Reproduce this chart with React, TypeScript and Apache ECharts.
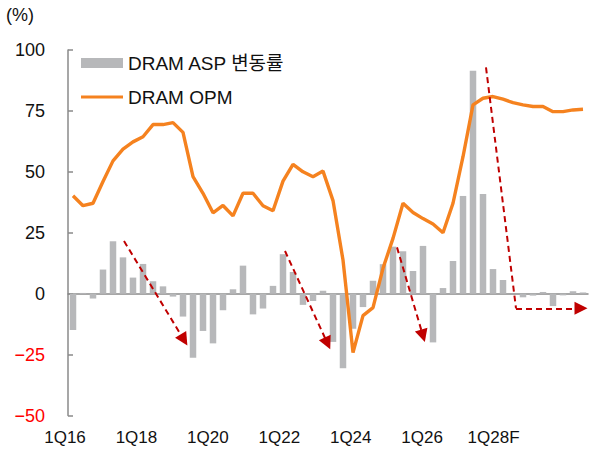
import React, { useEffect, useRef } from 'react';
import * as echarts from 'echarts';

const FONT = "'Liberation Sans', 'Noto Sans CJK KR', sans-serif";

const years = [16, 17, 18, 19, 20, 21, 22, 23, 24, 25, 26, 27, 28];
const quarters = years.flatMap((y) => [1, 2, 3, 4].map((q) => `${q}Q${y}`));

const tickLabels = ['1Q16', '1Q18', '1Q20', '1Q22', '1Q24', '1Q26', '1Q28F'];

const aspChange = [
  -14.9, 0.3, -2.0, 9.9, 21.5, 14.9, 6.6, 12.2, 5.1, 3.0, -1.2, -9.4,
  -26.3, -15.3, -20.4, -6.8, 1.8, 11.5, -8.5, -6.1, 3.2, 16.2, 8.9, -4.6,
  -3.0, 1.2, -19.8, -30.6, -14.4, -5.5, 5.3, 12.1, 19.3, 17.4, 9.3, 19.6,
  -20.0, 2.3, 13.4, 40.1, 91.5, 40.9, 10.1, 5.6, 0.0, -1.5, -0.8, 0.7,
  -5.1, -0.7, 1.0, 0.5,
];

const opm = [
  40.2, 36.1, 37.1, 46.0, 54.5, 59.3, 62.3, 64.4, 69.4, 69.4, 70.2, 66.2,
  48.0, 41.2, 33.2, 36.2, 31.9, 41.2, 41.2, 36.1, 34.0, 46.2, 53.1, 50.0,
  48.0, 50.3, 38.2, 13.8, -24.2, -9.0, -5.7, 10.4, 22.7, 37.1, 33.3, 30.8,
  28.6, 25.0, 37.1, 56.2, 77.5, 80.2, 80.9, 79.8, 78.4, 77.5, 76.8, 76.8,
  74.7, 74.7, 75.4, 75.7,
];

// annotation arrows, in [category index, value] units
const arrowsWithHead = [
  [[5.1, 21.6], [11.1, -19.0]],
  [[21.2, 17.5], [25.45, -20.4]],
  [[32.4, 19.0], [35.0, -17.3]],
  [[44.3, -6.0], [50.8, -6.0]],
];
const arrowStems = [[[41.3, 92.9], [44.3, -6.0]]];

export default function App() {
  const ref = useRef<HTMLDivElement>(null);
  useEffect(() => {
    if (!ref.current) return;
    const chart = echarts.init(ref.current, undefined, { renderer: 'svg' });
    const axisGray = '#8a8a8a';
    chart.setOption({
      animation: false,
      backgroundColor: '#ffffff',
      textStyle: { fontFamily: FONT },
      graphic: [
        {
          type: 'text',
          left: 6,
          top: 6,
          style: { text: '(%)', fontSize: 18, fill: '#111', fontFamily: FONT },
        },
      ],
      legend: {
        orient: 'vertical',
        left: 81,
        top: 53,
        padding: 0,
        itemWidth: 42,
        itemHeight: 10,
        itemGap: 14,
        symbolKeepAspect: true,
        textStyle: { fontSize: 19, lineHeight: 20, color: '#111', fontFamily: FONT },
        data: [
          { name: 'DRAM ASP 변동률', icon: 'rect' },
          { name: 'DRAM OPM', icon: 'path://M0,0H42V3.2H0Z' },
        ],
      },
      grid: [
        { left: 68, width: 520, top: 50, bottom: 38.5 },
        { left: 65, width: 428.6, top: 50, bottom: 38.5 },
      ],
      xAxis: [
        {
          type: 'category',
          gridIndex: 0,
          data: quarters,
          axisLine: { onZero: true, lineStyle: { color: axisGray, width: 1.5 } },
          axisTick: { show: false },
          axisLabel: { show: false },
        },
        {
          type: 'category',
          gridIndex: 1,
          data: tickLabels,
          boundaryGap: false,
          position: 'bottom',
          axisLine: { show: false, onZero: false },
          axisTick: { show: false },
          axisLabel: { interval: 0, margin: 13, fontSize: 17, color: '#111', fontFamily: FONT },
        },
        { type: 'value', gridIndex: 0, min: -0.5, max: 51.5, show: false },
      ],
      yAxis: [
        {
          type: 'value',
          gridIndex: 0,
          min: -50,
          max: 100,
          interval: 25,
          axisLine: { show: true, onZero: false, lineStyle: { color: axisGray, width: 1.5 } },
          axisTick: { show: true, inside: true, length: 5, lineStyle: { color: axisGray, width: 1.5 } },
          splitLine: { show: false },
          axisLabel: {
            margin: 23,
            fontSize: 18,
            fontFamily: FONT,
            color: (v: any) => (Number(v) < 0 ? '#ff0000' : '#111'),
            formatter: (v: number) => (v < 0 ? '\u2212' + Math.abs(v) : String(v)),
          },
        },
        { type: 'value', gridIndex: 1, min: 0, max: 1, show: false },
      ],
      series: [
        {
          name: 'DRAM ASP 변동률',
          type: 'bar',
          xAxisIndex: 0,
          yAxisIndex: 0,
          data: aspChange,
          barCategoryGap: '35%',
          itemStyle: { color: '#b7b8ba' },
          z: 2,
        },
        {
          name: 'DRAM OPM',
          type: 'line',
          xAxisIndex: 0,
          yAxisIndex: 0,
          data: opm,
          symbol: 'none',
          color: '#f5821f',
          lineStyle: { color: '#f5821f', width: 3.4 },
          z: 3,
        },
        {
          type: 'lines',
          coordinateSystem: 'cartesian2d',
          xAxisIndex: 2,
          yAxisIndex: 0,
          data: arrowsWithHead.map((c) => ({ coords: c })),
          symbol: ['none', 'triangle'],
          symbolSize: 13,
          lineStyle: { color: '#c00000', width: 2, type: [6, 4], opacity: 1, curveness: 0 },
          z: 5,
        },
        {
          type: 'lines',
          coordinateSystem: 'cartesian2d',
          xAxisIndex: 2,
          yAxisIndex: 0,
          data: arrowStems.map((c) => ({ coords: c })),
          symbol: ['none', 'none'],
          lineStyle: { color: '#c00000', width: 2, type: [6, 4], opacity: 1, curveness: 0 },
          z: 5,
        },
      ],
    });
    return () => chart.dispose();
  }, []);
  return (
    <div
      ref={ref}
      style={{ position: 'absolute', left: 0, top: 0, width: 589, height: 454 }}
    />
  );
}
